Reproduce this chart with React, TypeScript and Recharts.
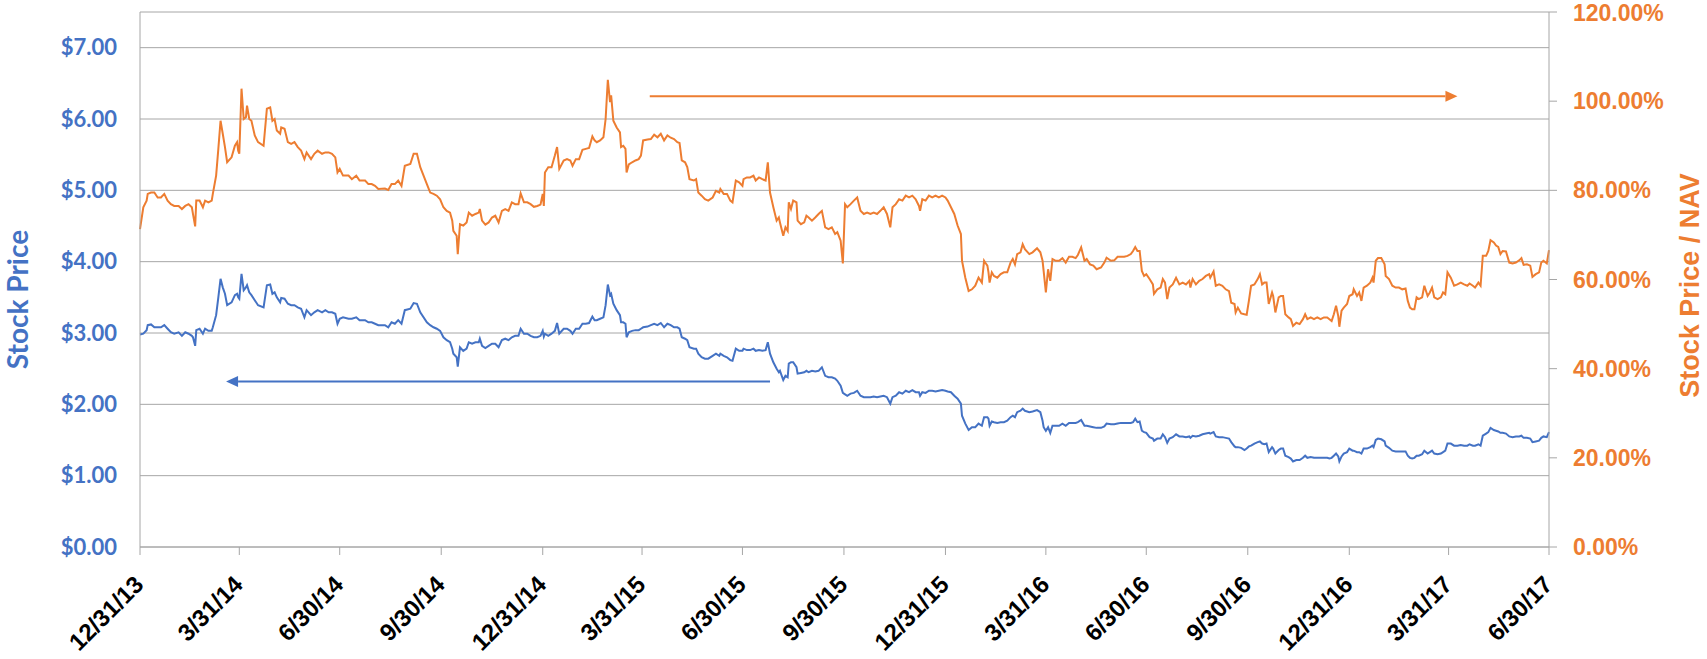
import React from "react"
import { LineChart, Line, XAxis, YAxis, CartesianGrid, ReferenceLine } from "recharts"

// x values are days counted from 12/31/13
const quarterDays = [0, 90, 181, 273, 365, 455, 546, 638, 730, 821, 912, 1004, 1096, 1186, 1277]
const quarterLabels = [
  "12/31/13", "3/31/14", "6/30/14", "9/30/14", "12/31/14", "3/31/15", "6/30/15", "9/30/15",
  "12/31/15", "3/31/16", "6/30/16", "9/30/16", "12/31/16", "3/31/17", "6/30/17",
]
const priceTicks = [0, 1, 2, 3, 4, 5, 6, 7]
const ratioTicks = [0, 20, 40, 60, 80, 100, 120]

const days = [
  0, 3, 6, 7, 10, 13, 16, 19, 22, 25, 28, 31, 35, 38, 41, 44, 47, 48, 50, 51,
  54, 57, 59, 62, 65, 66, 69, 71, 73, 75, 77, 79, 83, 86, 88, 89, 90, 92, 94, 96,
  97, 99, 101, 104, 107, 112, 115, 118, 120, 122, 124, 127, 128, 131, 134, 137, 140, 143, 146, 149,
  151, 155, 158, 161, 165, 168, 171, 174, 177, 179, 181, 184, 189, 192, 196, 199, 204, 207, 210, 213,
  216, 222, 225, 228, 231, 234, 237, 240, 245, 248, 251, 254,
  260, 263, 266, 269, 272, 275, 278, 281, 283, 284, 287, 288, 290, 293, 296, 298, 301, 304, 307, 308,
  310, 313, 316, 319, 322, 325, 328, 331, 334, 337, 340, 343, 345, 348, 351, 354, 357, 360, 363, 365,
  366, 367, 370, 373, 376, 378, 380, 384, 387, 390, 392, 395, 398, 401, 404, 407, 410, 412, 414, 417,
  420, 422, 424, 426, 427, 429, 432, 435, 436, 438, 440, 441, 443, 446, 449, 452, 454, 456, 460, 463,
  466, 469, 472, 475, 478, 481, 484, 487, 489, 491, 494, 496, 498, 502, 504, 506, 509, 512,
  515, 519, 522, 525, 526, 529, 532, 535, 537, 540, 543, 546, 547, 550, 553, 556, 558, 561, 564, 567,
  569, 571, 574, 577, 579, 580, 583, 585, 587, 588, 590, 592, 595, 596, 599, 602, 604, 606, 609, 612,
  615, 618, 621, 624, 627, 630, 632, 635, 637, 639, 641, 644, 647, 650, 653, 656, 659, 662, 665, 668,
  671, 674, 677, 680, 682, 685, 688, 691, 694, 697, 700, 703, 706, 707, 709, 712, 715, 718, 721, 724,
  727, 730, 732, 735, 738, 741, 744, 745, 748, 751, 754, 757, 760, 763, 765,
  766, 768, 769, 770, 772, 774, 777, 780, 783, 786, 789, 791, 793, 795, 798, 800, 802, 806, 809, 813,
  816, 818, 819, 821, 823, 825, 827, 830, 833, 836, 839, 842, 845, 848, 850, 853, 856, 858, 861, 864,
  867, 871, 874, 876, 880, 883, 886, 889, 892, 895, 898, 900, 902, 904, 906, 908, 910, 912, 915, 918,
  919, 922, 925, 927, 929, 931, 933, 936, 939, 942, 945, 948, 951, 952, 954, 957, 960, 963, 966, 969,
  970, 973, 975, 978, 981, 984, 987, 989, 992, 993, 995, 998, 1001, 1003, 1005, 1007, 1010, 1013, 1015, 1017,
  1019,
  1021, 1023, 1026, 1027, 1029, 1032, 1034, 1036, 1038, 1041, 1043, 1045, 1048, 1051, 1054, 1056, 1058, 1061, 1064, 1067,
  1070, 1073, 1076, 1078, 1080, 1082, 1084, 1086, 1087, 1089, 1091, 1094, 1096, 1099, 1100, 1103, 1105, 1107, 1109, 1112,
  1115, 1117, 1118, 1120, 1122, 1125, 1128, 1129, 1132, 1135, 1138, 1141, 1144, 1147, 1149, 1151, 1153, 1155, 1157, 1159,
  1162, 1164, 1167, 1169, 1171, 1173, 1176, 1179, 1181, 1183, 1185, 1188, 1191, 1194, 1197, 1200, 1203, 1205, 1208, 1210,
  1213, 1215, 1217, 1220, 1222, 1224, 1227, 1229, 1231, 1233, 1235, 1238, 1241, 1244, 1247, 1250, 1252, 1254, 1257, 1260,
  1262, 1265, 1268, 1270, 1272, 1275, 1277,
]

const stockPrice = [
  2.98, 2.99, 3.04, 3.11, 3.12, 3.08, 3.08, 3.08, 3.11, 3.06, 3.01, 2.99, 3.01, 2.96, 3.01, 2.99, 2.96, 2.94, 2.82, 3.04,
  3.06, 2.99, 3.06, 3.03, 3.03, 3.08, 3.25, 3.5, 3.76, 3.64, 3.55, 3.39, 3.43, 3.53, 3.55, 3.5, 3.48, 3.83, 3.6, 3.64,
  3.67, 3.57, 3.53, 3.46, 3.39, 3.36, 3.67, 3.68, 3.55, 3.57, 3.5, 3.43, 3.49, 3.48, 3.41, 3.39, 3.39, 3.36, 3.34, 3.22,
  3.32, 3.25, 3.29, 3.32, 3.29, 3.32, 3.29, 3.29, 3.27, 3.13, 3.2, 3.22, 3.2, 3.2, 3.22, 3.18, 3.18, 3.15, 3.15, 3.13,
  3.11, 3.11, 3.08, 3.15, 3.13, 3.18, 3.13, 3.32, 3.34, 3.42, 3.41, 3.29,
  3.15, 3.11, 3.08, 3.06, 3.03, 2.94, 2.9, 2.87, 2.78, 2.71, 2.66, 2.53, 2.8, 2.75, 2.78, 2.87, 2.85, 2.87, 2.87, 2.92,
  2.82, 2.79, 2.82, 2.85, 2.85, 2.8, 2.9, 2.92, 2.9, 2.94, 2.96, 2.96, 3.06, 2.99, 2.99, 2.96, 2.94, 2.94, 2.96, 3.03,
  2.95, 2.99, 2.96, 2.99, 3.03, 3.14, 2.99, 3.06, 3.06, 3.03, 2.99, 3.06, 3.06, 3.13, 3.13, 3.14, 3.23, 3.18, 3.18, 3.2,
  3.22, 3.39, 3.68, 3.53, 3.55, 3.41, 3.32, 3.25, 3.15, 3.15, 3.13, 2.94, 3.01, 3.03, 3.04, 3.04, 3.06, 3.08, 3.09, 3.11,
  3.13, 3.11, 3.14, 3.08, 3.13, 3.11, 3.08, 3.08, 3.06, 2.94, 2.92, 2.9, 2.8, 2.78, 2.78, 2.71, 2.66, 2.64,
  2.64, 2.68, 2.71, 2.68, 2.71, 2.68, 2.66, 2.62, 2.61, 2.78, 2.75, 2.75, 2.78, 2.76, 2.76, 2.78, 2.75, 2.76, 2.75, 2.76,
  2.87, 2.71, 2.59, 2.5, 2.45, 2.47, 2.34, 2.4, 2.38, 2.57, 2.59, 2.59, 2.52, 2.43, 2.44, 2.45, 2.47, 2.45, 2.47, 2.46,
  2.47, 2.52, 2.4, 2.38, 2.38, 2.36, 2.33, 2.26, 2.16, 2.14, 2.12, 2.15, 2.16, 2.19, 2.12, 2.1, 2.1, 2.1, 2.11, 2.1,
  2.11, 2.12, 2.1, 2.01, 2.1, 2.12, 2.17, 2.15, 2.19, 2.17, 2.2, 2.17, 2.17, 2.12, 2.17, 2.16, 2.19, 2.19, 2.18, 2.19,
  2.2, 2.19, 2.18, 2.17, 2.12, 2.08, 2.01, 1.84, 1.73, 1.64, 1.68, 1.68, 1.73, 1.7, 1.82,
  1.82, 1.82, 1.8, 1.7, 1.76, 1.75, 1.74, 1.75, 1.75, 1.77, 1.82, 1.84, 1.82, 1.89, 1.91, 1.94, 1.91, 1.89, 1.9, 1.92,
  1.89, 1.77, 1.68, 1.63, 1.68, 1.6, 1.7, 1.7, 1.7, 1.73, 1.7, 1.74, 1.74, 1.74, 1.75, 1.78, 1.7, 1.7, 1.69, 1.68,
  1.67, 1.67, 1.69, 1.73, 1.72, 1.72, 1.73, 1.74, 1.74, 1.74, 1.74, 1.75, 1.8, 1.75, 1.76, 1.63, 1.61, 1.6, 1.54, 1.52,
  1.49, 1.52, 1.52, 1.58, 1.54, 1.46, 1.52, 1.54, 1.58, 1.55, 1.55, 1.54, 1.55, 1.53, 1.56, 1.55, 1.56, 1.58, 1.59, 1.6,
  1.59, 1.61, 1.55, 1.54, 1.54, 1.53, 1.52, 1.47, 1.41, 1.4, 1.4, 1.39, 1.36, 1.38, 1.41, 1.42, 1.45, 1.47, 1.48, 1.45,
  1.44,
  1.45, 1.33, 1.4, 1.38, 1.31, 1.36, 1.38, 1.38, 1.28, 1.26, 1.24, 1.2, 1.22, 1.22, 1.25, 1.28, 1.25, 1.26, 1.25, 1.25,
  1.25, 1.25, 1.25, 1.24, 1.25, 1.28, 1.31, 1.27, 1.2, 1.27, 1.31, 1.33, 1.38, 1.35, 1.35, 1.33, 1.33, 1.31, 1.38, 1.38,
  1.4, 1.42, 1.4, 1.5, 1.52, 1.51, 1.48, 1.42, 1.39, 1.35, 1.34, 1.34, 1.34, 1.34, 1.28, 1.25, 1.24, 1.25, 1.28, 1.28,
  1.3, 1.35, 1.31, 1.33, 1.35, 1.31, 1.3, 1.31, 1.33, 1.35, 1.45, 1.45, 1.42, 1.42, 1.43, 1.42, 1.42, 1.44, 1.42, 1.42,
  1.44, 1.42, 1.56, 1.59, 1.61, 1.67, 1.64, 1.63, 1.62, 1.6, 1.6, 1.59, 1.55, 1.54, 1.55, 1.55, 1.56, 1.53, 1.53, 1.52,
  1.47, 1.48, 1.49, 1.53, 1.55, 1.54, 1.61,
]

const priceToNav = [
  71.3, 76.2, 77.7, 79.2, 79.5, 79.5, 78.4, 78.4, 79.2, 77.7, 76.9, 76.5, 76.5, 75.8, 76.5, 76.9, 76.2, 74.7, 71.9, 77.7,
  77.7, 76.2, 77.7, 77.3, 77.7, 79.2, 83.3, 89.3, 95.6, 92.7, 89.7, 86.3, 87.4, 90.0, 90.8, 88.9, 88.2, 102.8, 96.0, 96.4,
  99.0, 96.0, 95.6, 92.3, 90.8, 90.0, 98.3, 98.6, 95.6, 96.0, 93.4, 92.7, 94.1, 93.8, 90.8, 90.4, 90.8, 89.7, 88.9, 87.0,
  88.5, 87.0, 88.2, 88.9, 88.2, 88.5, 88.5, 88.2, 87.4, 84.0, 84.8, 83.3, 83.3, 82.5, 83.3, 82.2, 82.2, 81.4, 81.4, 81.0,
  80.3, 80.4, 80.1, 81.4, 81.4, 82.2, 81.0, 85.5, 85.9, 88.2, 88.2, 85.2,
  81.4, 79.5, 79.2, 78.8, 78.0, 76.2, 75.4, 75.0, 73.2, 70.9, 69.8, 65.7, 72.4, 72.1, 72.8, 75.0, 74.3, 74.7, 75.0, 75.8,
  73.2, 72.3, 72.8, 73.9, 74.3, 72.8, 75.4, 75.8, 75.4, 77.3, 76.9, 76.9, 79.3, 77.3, 77.3, 76.9, 76.3, 76.5, 76.8, 79.2,
  76.5, 84.0, 85.2, 85.2, 87.8, 89.7, 84.8, 86.7, 87.0, 86.7, 85.5, 87.0, 87.0, 89.1, 89.3, 89.5, 92.1, 91.2, 90.8, 91.2,
  91.9, 96.0, 104.8, 99.8, 101.3, 95.6, 94.1, 93.0, 89.7, 90.0, 89.3, 84.0, 85.8, 86.3, 86.7, 87.0, 87.8, 91.2, 91.4, 91.5,
  92.5, 91.9, 92.7, 91.2, 92.3, 91.8, 91.5, 90.8, 90.6, 86.7, 86.3, 85.2, 82.5, 82.2, 82.5, 79.5, 78.8, 78.0,
  77.7, 78.4, 79.9, 79.5, 80.3, 79.2, 79.2, 77.7, 77.3, 82.2, 81.8, 81.0, 82.5, 82.9, 82.9, 83.3, 82.2, 82.9, 82.5, 82.2,
  86.3, 79.5, 76.2, 73.2, 73.9, 72.8, 69.8, 71.7, 70.9, 77.3, 75.8, 77.7, 77.3, 73.2, 72.4, 72.8, 74.3, 73.9, 73.2, 73.9,
  74.7, 75.4, 71.7, 71.3, 71.7, 70.2, 70.6, 68.7, 63.6, 76.9, 76.2, 76.9, 77.7, 78.4, 75.4, 74.7, 75.0, 74.7, 75.0, 74.7,
  75.4, 76.2, 74.7, 71.7, 76.2, 76.9, 78.0, 77.7, 78.8, 78.4, 78.8, 78.0, 76.5, 75.4, 78.0, 77.7, 78.8, 78.4, 78.8, 78.4,
  78.8, 78.4, 77.7, 76.2, 74.7, 72.1, 70.2, 64.2, 60.4, 57.4, 57.8, 58.6, 60.4, 59.3, 64.2,
  63.8, 63.1, 61.6, 59.3, 61.6, 60.8, 60.4, 61.2, 61.6, 61.6, 63.8, 64.6, 63.4, 65.7, 66.1, 67.9, 66.8, 65.7, 66.1, 67.0,
  66.1, 64.2, 61.9, 57.1, 62.3, 59.7, 64.6, 64.2, 64.2, 64.8, 63.8, 65.1, 65.1, 64.8, 65.5, 67.2, 64.2, 64.6, 63.4, 63.1,
  62.3, 62.7, 63.8, 64.9, 64.2, 64.3, 65.1, 65.1, 65.1, 65.3, 65.7, 66.4, 67.3, 66.4, 66.4, 61.9, 60.8, 61.2, 60.1, 58.9,
  56.8, 57.8, 58.2, 60.1, 59.3, 55.6, 58.2, 58.9, 60.4, 58.9, 59.3, 58.9, 59.7, 58.2, 60.1, 58.9, 59.7, 60.1, 60.8, 61.2,
  60.4, 61.8, 58.6, 58.9, 58.6, 57.8, 57.4, 54.8, 54.5, 52.6, 53.7, 52.4, 52.2, 52.1, 55.2, 58.6, 58.9, 60.1, 61.2, 58.9,
  59.3,
  59.3, 54.5, 57.1, 56.3, 52.6, 56.0, 56.3, 56.3, 52.2, 51.5, 51.1, 49.6, 50.3, 50.0, 51.1, 52.2, 51.1, 51.5, 51.1, 51.5,
  51.1, 51.5, 51.5, 51.1, 50.7, 52.2, 54.1, 51.8, 49.4, 53.0, 53.7, 54.5, 56.3, 56.7, 57.8, 56.3, 57.1, 55.2, 58.2, 58.6,
  59.3, 60.4, 59.3, 64.2, 64.8, 64.8, 63.4, 60.8, 60.1, 58.6, 58.2, 58.2, 57.8, 58.0, 55.2, 53.7, 53.3, 53.3, 56.0, 55.6,
  56.0, 58.6, 56.3, 57.1, 58.2, 56.0, 55.6, 56.0, 57.1, 56.7, 61.6, 60.4, 58.6, 58.9, 59.3, 58.9, 58.6, 59.1, 58.6, 58.2,
  59.3, 58.6, 65.3, 65.3, 66.4, 68.8, 68.3, 67.6, 67.3, 65.7, 66.4, 66.3, 63.8, 63.6, 63.8, 64.3, 64.8, 63.3, 63.4, 63.1,
  60.6, 61.2, 61.6, 63.8, 64.2, 63.6, 66.6,
]

// annotation arrows: [from day, to day, level]
const ratioArrow = [462, 1194, 101.1]
const priceArrow = [571, 78, 2.32]

const data = days.map((day, i) => ({ day, price: stockPrice[i], ratio: priceToNav[i] }))

const BLUE = "#4472C4"
const ORANGE = "#ED7D31"
const GRID = "#a6a6a6"
const ARIAL = "'Liberation Sans', Arial, sans-serif"

const ArrowShape = ({ x1, y1, x2, y2, stroke }: any) => {
  if (x1 == null || x2 == null) return null
  const dir = x2 > x1 ? 1 : -1
  const len = 12
  const half = 5.5
  return (
    <g>
      <line x1={x1} y1={y1} x2={x2 - dir * len} y2={y2} stroke={stroke} strokeWidth={2} />
      <polygon points={`${x2},${y2} ${x2 - dir * len},${y2 - half} ${x2 - dir * len},${y2 + half}`} fill={stroke} />
    </g>
  )
}

const DateTick = ({ x, y, payload }: any) => {
  const idx = quarterDays.indexOf(payload.value)
  const ax = x + 5
  const ay = y + 29
  return (
    <text
      x={ax}
      y={ay}
      transform={`rotate(-45, ${ax}, ${ay})`}
      textAnchor="end"
      fill="#000"
      fontFamily={ARIAL}
      fontWeight={700}
      fontSize={24}
    >
      {quarterLabels[idx]}
    </text>
  )
}

const LeftTitle = ({ viewBox }: any) => {
  const cx = viewBox.x + 17
  const cy = viewBox.y + viewBox.height / 2 + 20
  return (
    <text
      x={cx}
      y={cy}
      transform={`rotate(-90, ${cx}, ${cy})`}
      textAnchor="middle"
      dominantBaseline="central"
      fill={BLUE}
      fontFamily="Lato, sans-serif"
      fontWeight={700}
      fontSize={28}
    >
      Stock Price
    </text>
  )
}

const RightTitle = ({ viewBox }: any) => {
  const cx = viewBox.x + 141
  const cy = viewBox.y + viewBox.height / 2 + 6
  return (
    <text
      x={cx}
      y={cy}
      transform={`rotate(-90, ${cx}, ${cy})`}
      textAnchor="middle"
      dominantBaseline="central"
      fill={ORANGE}
      fontFamily={ARIAL}
      fontWeight={700}
      fontSize={27}
    >
      Stock Price / NAV
    </text>
  )
}

export default function App() {
  return (
    <div style={{ position: "absolute", left: 0, top: 0, width: 1707, height: 659, background: "#fff" }}>
      <LineChart width={1707} height={659} data={data} margin={{ top: 12, right: 0, bottom: 0, left: 0 }}>
        <CartesianGrid yAxisId="left" vertical={false} stroke={GRID} />
        <XAxis
          dataKey="day"
          type="number"
          domain={[0, 1277]}
          ticks={quarterDays}
          interval={0}
          height={112}
          stroke={GRID}
          tickSize={8}
          tick={<DateTick />}
        />
        <YAxis
          yAxisId="left"
          domain={[0, 7.5]}
          ticks={priceTicks}
          width={140}
          stroke={GRID}
          tickLine={false}
          tickSize={0}
          tickMargin={23}
          tickFormatter={(v: number) => `$${v.toFixed(2)}`}
          tick={{ fill: BLUE, fontFamily: "Lato, sans-serif", fontWeight: 700, fontSize: 22 }}
          label={<LeftTitle />}
        />
        <YAxis
          yAxisId="right"
          orientation="right"
          domain={[0, 120]}
          ticks={ratioTicks}
          width={158}
          stroke={GRID}
          tickSize={8}
          tickMargin={16}
          tickFormatter={(v: number) => `${v.toFixed(2)}%`}
          tick={{ fill: ORANGE, fontFamily: ARIAL, fontWeight: 700, fontSize: 23 }}
          label={<RightTitle />}
        />
        <Line
          yAxisId="left"
          type="linear"
          dataKey="price"
          stroke={BLUE}
          strokeWidth={2}
          dot={false}
          isAnimationActive={false}
        />
        <Line
          yAxisId="right"
          type="linear"
          dataKey="ratio"
          stroke={ORANGE}
          strokeWidth={2}
          dot={false}
          isAnimationActive={false}
        />
        <ReferenceLine
          yAxisId="right"
          segment={[{ x: ratioArrow[0], y: ratioArrow[2] }, { x: ratioArrow[1], y: ratioArrow[2] }]}
          stroke={ORANGE}
          shape={(p: any) => <ArrowShape {...p} stroke={ORANGE} />}
        />
        <ReferenceLine
          yAxisId="left"
          segment={[{ x: priceArrow[0], y: priceArrow[2] }, { x: priceArrow[1], y: priceArrow[2] }]}
          stroke={BLUE}
          shape={(p: any) => <ArrowShape {...p} stroke={BLUE} />}
        />
      </LineChart>
    </div>
  )
}
